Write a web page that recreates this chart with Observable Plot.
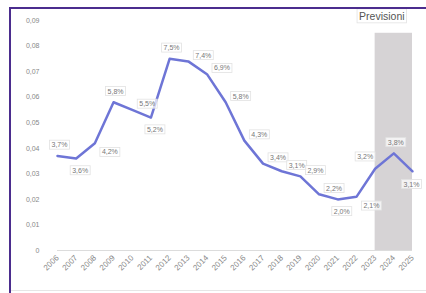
<!DOCTYPE html>
<html>
<head>
<meta charset="utf-8">
<script src="https://cdn.jsdelivr.net/npm/d3@7"></script>
<script src="https://cdn.jsdelivr.net/npm/@observablehq/plot@0.6"></script>
<style>
  html, body { margin: 0; padding: 0; background: #fff; }
  #wrap { position: relative; width: 426px; height: 293px; overflow: hidden; }
  #frameL { position: absolute; left: 9px; top: 7px; width: 2px; height: 290px; background: #4b2d8e; }
  #frameT { position: absolute; left: 9px; top: 7px; width: 420px; height: 2px; background: #4b2d8e; }
  #frameB { position: absolute; left: 11px; top: 290px; width: 420px; height: 1px; background: #e6e6e6; }
  #chart { position: absolute; left: 0; top: 0; }
</style>
</head>
<body>
<div id="wrap">
  <div id="chart"></div>
  <div id="frameL"></div>
  <div id="frameT"></div>
  <div id="frameB"></div>
</div>
<script>
const years = [2006, 2007, 2008, 2009, 2010, 2011, 2012, 2013, 2014, 2015,
               2016, 2017, 2018, 2019, 2020, 2021, 2022, 2023, 2024, 2025];
const rates = [0.037, 0.036, 0.042, 0.058, 0.055, 0.052, 0.075, 0.074, 0.069, 0.058,
               0.043, 0.034, 0.031, 0.029, 0.022, 0.020, 0.021, 0.032, 0.038, 0.031];
const yTicks = [0, 0.01, 0.02, 0.03, 0.04, 0.05, 0.06, 0.07, 0.08, 0.09];
const forecastLabel = "Previsioni";
const forecastStart = 2023;
const forecastEnd = 2025;
const forecastTop = 0.085;

const data = years.map((year, i) => ({year, rate: rates[i], i}));

const isMin = i => i > 0 && i < rates.length - 1 && rates[i] < rates[i - 1] && rates[i] < rates[i + 1];
const isMax = i => i > 0 && i < rates.length - 1 && rates[i] > rates[i - 1] && rates[i] > rates[i + 1];

// label placement class derived from the local shape of the line
function place(d) {
  const i = d.i, v = d.rate;
  const prev = i > 0 ? rates[i - 1] : null;
  const next = i < rates.length - 1 ? rates[i + 1] : null;
  if (prev !== null && next !== null) {
    if (isMin(i)) return "below";
    if (isMax(i)) return "above";
    if (next > v && isMax(i + 1) && !isMin(i - 1)) return "aboveLeft";
    return next < v ? "rightAbove" : "rightBelow";
  }
  if (next !== null) return next < v ? "above" : "rightBelow";
  return "belowEnd";
}

const pct = d => (d.rate * 100).toFixed(1).replace(".", ",") + "%";
const labelStyle = {x: "year", y: "rate", text: pct, fontSize: 7, fill: "#777", ariaDescription: "value-label"};
const offsets = {
  above: [2, -11],
  below: [4, 12],
  rightAbove: [15, -6],
  rightBelow: [15, 9],
  aboveLeft: [-10, -12],
  belowEnd: [-1, 13]
};
const labelMarks = Object.entries(offsets).map(([k, [dx, dy]]) =>
  Plot.text(data, {...labelStyle, filter: d => place(d) === k, dx, dy})
);

const chart = Plot.plot({
  width: 426,
  height: 293,
  marginLeft: 57,
  marginRight: 14,
  marginTop: 20,
  marginBottom: 43,
  style: {fontFamily: "'Liberation Sans', Arial, sans-serif", fontSize: "7px", color: "#888", background: "transparent"},
  x: {domain: [2006, 2025], ticks: years, tickFormat: d => String(d), tickRotate: -45, tickSize: 0, tickPadding: 6, label: null},
  y: {domain: [0, 0.09], ticks: yTicks, tickFormat: d => d === 0 ? "0" : d.toFixed(2).replace(".", ","), tickSize: 0, tickPadding: 18, label: null},
  marks: [
    Plot.rect([{x1: forecastStart, x2: forecastEnd}], {x1: "x1", x2: "x2", y1: 0, y2: forecastTop, fill: "#d6d3d5"}),
    Plot.ruleY([0], {stroke: "#dcdcdc", strokeWidth: 1}),
    Plot.line(data, {x: "year", y: "rate", stroke: "#6e75d6", strokeWidth: 2.5}),
    ...labelMarks,
    Plot.text([forecastLabel], {x: (forecastStart + forecastEnd) / 2, y: yTicks[yTicks.length - 1], text: d => d, dx: -12, dy: -4, fontSize: 10.5, fill: "#555", ariaDescription: "value-label"})
  ]
});
document.getElementById("chart").appendChild(chart);

// slightly larger year labels
chart.querySelectorAll('g[aria-label="x-axis tick label"]').forEach(g => g.setAttribute("font-size", "8"));

// light boxes around the data labels
chart.querySelectorAll('g[aria-description="value-label"] text').forEach(t => {
  const b = t.getBBox();
  const r = document.createElementNS("http://www.w3.org/2000/svg", "rect");
  r.setAttribute("x", b.x - 2);
  r.setAttribute("y", b.y - 1);
  r.setAttribute("width", b.width + 4);
  r.setAttribute("height", b.height + 2);
  r.setAttribute("fill", "#fff");
  r.setAttribute("fill-opacity", "0.7");
  r.setAttribute("stroke", "#e2e2e2");
  r.setAttribute("stroke-width", "0.8");
  if (t.getAttribute("transform")) r.setAttribute("transform", t.getAttribute("transform"));
  t.parentNode.insertBefore(r, t);
});
</script>
</body>
</html>
